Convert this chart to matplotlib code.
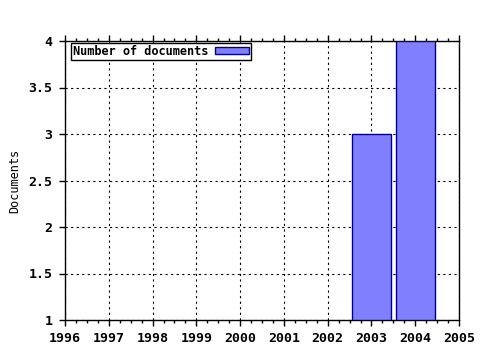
#!/usr/bin/env python3
import numpy as np
import matplotlib
matplotlib.use('Agg')
import matplotlib.pyplot as plt
from matplotlib.ticker import MultipleLocator

years = [2003, 2004]
docs = [3, 4]
xticks = list(range(1996, 2006))
yticks = [1, 1.5, 2, 2.5, 3, 3.5, 4]
ytick_labels = ['1', '1.5', '2', '2.5', '3', '3.5', '4']

plt.rcParams['font.family'] = 'DejaVu Sans Mono'
plt.rcParams['font.weight'] = 'bold'
plt.rcParams['font.size'] = 8.6

fig = plt.figure(figsize=(4.8, 3.5), dpi=100)
ax = fig.add_axes([65/480, 30/350, 394/480, 279/350])

ax.bar(years, [d - 1 for d in docs], bottom=1, width=0.9,
       color='#8080ff', edgecolor='#000090', linewidth=1,
       label='Number of documents', zorder=3)

ax.set_xlim(1996, 2005)
ax.set_ylim(1, 4)
ax.set_xticks(xticks)
ax.set_xticklabels([str(y) for y in xticks])
ax.set_yticks(yticks)
ax.set_yticklabels(ytick_labels)
ax.xaxis.set_minor_locator(MultipleLocator(0.25))
ax.tick_params(which='both', direction='out', color='black', width=1,
               labelsize=9.5)
ax.tick_params(axis='x', which='major', length=4, top=True, pad=5)
ax.tick_params(axis='x', which='minor', length=2, top=True)
ax.tick_params(axis='y', which='major', length=4, pad=5)
ax.grid(True, which='major', linestyle=(0, (2, 3)), color='black', linewidth=0.8)
ax.set_axisbelow(True)
for s in ax.spines.values():
    s.set_linewidth(1)

ax.set_ylabel('Documents')
ax.yaxis.set_label_coords(-0.11, 0.5)

leg = ax.legend(loc='upper left', bbox_to_anchor=(6/394, 1 - 2/279),
                markerfirst=False, fancybox=False,
                framealpha=1, edgecolor='black', borderpad=0.15,
                handlelength=2.8, handleheight=0.5, handletextpad=0.6,
                borderaxespad=0)
leg.get_frame().set_linewidth(1)

plt.savefig('out.png', dpi=100)
